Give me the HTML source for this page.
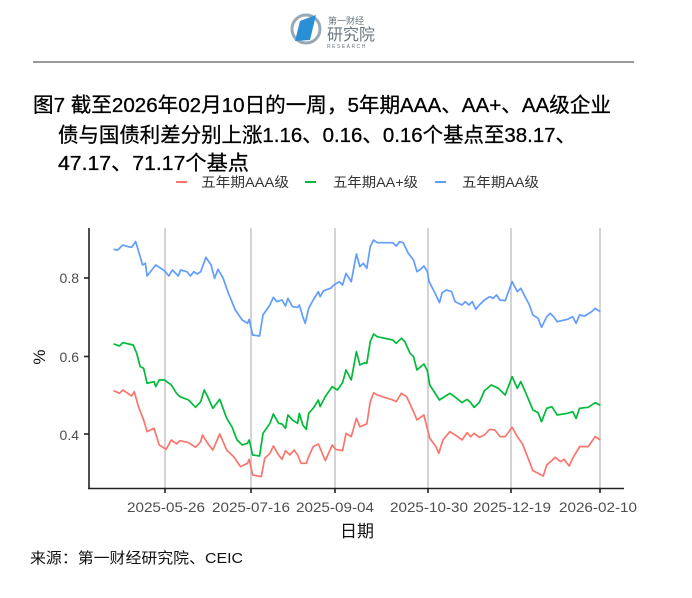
<!DOCTYPE html>
<html><head><meta charset="utf-8"><style>
body{margin:0;width:692px;height:593px;background:#fff;overflow:hidden;font-family:"Liberation Sans","Noto Sans CJK SC",sans-serif;}
</style></head><body>
<svg width="692" height="593" viewBox="0 0 692 593" xmlns="http://www.w3.org/2000/svg" font-family="Liberation Sans, Noto Sans CJK SC, sans-serif">
<!-- logo -->
<circle cx="306" cy="29" r="14" fill="none" stroke="#9aa7b4" stroke-width="3"/>
<polygon points="300,21 316,15 310,40 295,41" fill="#2b8fd6"/>
<text x="328" y="24" font-size="9" fill="#6b7680">第一财经</text>
<text x="327" y="40" font-size="16" fill="#6b7680">研究院</text>
<text x="327" y="48" font-size="5" fill="#6b7680" letter-spacing="1.5">RESEARCH</text>
<line x1="33" y1="62" x2="634" y2="62" stroke="#333" stroke-width="1"/>
<!-- title -->
<g font-size="20.5" fill="#000" stroke="#000" stroke-width="0.3">
<text x="33" y="112" textLength="578" lengthAdjust="spacingAndGlyphs">图7  截至2026年02月10日的一周，5年期AAA、AA+、AA级企业</text>
<text x="58" y="142" textLength="518" lengthAdjust="spacingAndGlyphs">债与国债利差分别上涨1.16、0.16、0.16个基点至38.17、</text>
<text x="58" y="170" textLength="191" lengthAdjust="spacingAndGlyphs">47.17、71.17个基点</text>
</g>
<!-- legend -->
<g font-size="13.5" fill="#333">
<line x1="176" y1="182" x2="187" y2="182" stroke="#f8766d" stroke-width="2"/>
<text x="201" y="187" textLength="88" lengthAdjust="spacingAndGlyphs">五年期AAA级</text>
<line x1="305" y1="182" x2="316" y2="182" stroke="#00ba38" stroke-width="2"/>
<text x="333" y="187" textLength="85" lengthAdjust="spacingAndGlyphs">五年期AA+级</text>
<line x1="435" y1="182" x2="446" y2="182" stroke="#619cff" stroke-width="2"/>
<text x="462" y="187" textLength="77" lengthAdjust="spacingAndGlyphs">五年期AA级</text>
</g>
<!-- grid -->
<g stroke="#bdbdbd" stroke-width="1.3">
<line x1="165" y1="228" x2="165" y2="488"/><line x1="251" y1="228" x2="251" y2="488"/>
<line x1="335" y1="228" x2="335" y2="488"/><line x1="428" y1="228" x2="428" y2="488"/>
<line x1="511" y1="228" x2="511" y2="488"/><line x1="600" y1="228" x2="600" y2="488"/>
</g>
<g transform="translate(90,220) scale(0.346,0.3333)" fill="none" stroke-width="1.7" stroke-linejoin="round">
<polyline vector-effect="non-scaling-stroke" stroke="#619cff" points="68,88 80,90 95,75 110,80 120,82 132,65 145,110 152,135 160,130 165,168 190,135 215,152 228,168 238,150 255,168 262,150 280,155 290,168 300,155 310,162 320,155 335,112 350,135 360,175 370,148 385,175 400,220 420,270 440,300 455,310 460,298 470,345 490,348 500,285 520,255 530,232 540,245 555,240 565,258 572,235 585,260 600,262 605,255 615,290 622,310 632,265 645,240 660,215 665,230 675,212 695,205 705,195 720,185 730,195 740,160 755,185 770,102 780,140 790,130 800,145 810,80 820,60 830,68 875,68 885,78 895,65 905,68 920,100 935,120 945,155 955,148 965,138 975,155 980,185 995,215 1010,248 1018,218 1030,210 1045,215 1055,245 1075,255 1085,245 1095,255 1105,245 1115,268 1125,255 1140,240 1155,230 1165,235 1175,225 1185,240 1200,242 1220,185 1235,215 1245,205 1255,225 1270,255 1280,285 1295,295 1305,322 1320,290 1330,280 1340,290 1350,305 1380,298 1395,290 1405,310 1415,285 1430,288 1450,275 1460,265 1475,275"/>
<polyline vector-effect="non-scaling-stroke" stroke="#00ba38" points="68,372 85,378 95,368 125,375 135,400 145,440 155,445 165,490 185,485 190,500 200,480 215,480 235,495 250,520 260,530 285,540 305,562 320,545 330,510 340,530 355,565 375,538 395,595 410,620 425,660 440,675 455,670 460,660 470,705 490,708 500,640 520,610 530,582 545,610 555,612 565,625 572,585 585,600 600,610 605,580 615,615 625,628 632,580 645,565 660,540 665,560 680,530 700,500 715,510 730,488 740,450 755,480 770,395 780,435 795,428 800,430 810,365 820,342 830,350 875,360 885,370 900,355 910,365 925,400 935,410 945,450 965,432 975,452 982,495 1010,540 1040,520 1060,535 1075,548 1090,538 1100,548 1110,562 1125,548 1140,512 1160,495 1180,505 1200,525 1220,470 1235,505 1245,485 1260,520 1280,570 1295,578 1305,605 1320,565 1335,560 1350,585 1380,580 1395,575 1405,595 1415,565 1440,562 1460,548 1475,556"/>
<polyline vector-effect="non-scaling-stroke" stroke="#f8766d" points="68,512 85,520 95,510 120,528 128,515 140,560 155,600 165,635 185,625 200,675 220,688 235,660 250,672 260,662 285,668 305,682 320,665 325,645 340,670 355,690 375,642 395,690 415,710 435,740 455,730 460,718 470,765 495,770 505,715 520,700 530,678 545,705 555,718 565,692 578,705 590,690 600,705 610,730 625,730 632,710 645,680 660,672 680,722 700,675 710,688 730,692 740,640 755,650 770,595 780,620 800,612 810,545 820,518 830,525 875,540 885,545 900,520 915,530 935,575 945,600 965,585 982,655 1000,680 1008,700 1020,660 1040,635 1060,648 1075,660 1090,638 1100,650 1110,640 1125,652 1140,645 1155,628 1170,630 1185,650 1200,650 1220,622 1235,650 1250,672 1270,725 1280,752 1310,768 1320,735 1345,712 1360,725 1370,718 1385,738 1395,715 1415,680 1440,680 1460,650 1475,660"/>
</g>
<!-- axes -->
<g stroke="#222" stroke-width="1.6">
<line x1="89" y1="228" x2="89" y2="489"/>
<line x1="88" y1="488.5" x2="624" y2="488.5"/>
<line x1="84" y1="278" x2="89" y2="278"/><line x1="84" y1="356.5" x2="89" y2="356.5"/><line x1="84" y1="434" x2="89" y2="434"/>
<line x1="165" y1="488" x2="165" y2="493"/><line x1="251" y1="488" x2="251" y2="493"/><line x1="335" y1="488" x2="335" y2="493"/>
<line x1="428" y1="488" x2="428" y2="493"/><line x1="511" y1="488" x2="511" y2="493"/><line x1="600" y1="488" x2="600" y2="493"/>
</g>
<g font-size="14" fill="#4d4d4d" text-anchor="end">
<text x="79" y="283">0.8</text><text x="79" y="362">0.6</text><text x="79" y="440">0.4</text>
</g>
<g font-size="14" fill="#4d4d4d" text-anchor="middle">
<text x="166" y="512" textLength="78" lengthAdjust="spacingAndGlyphs">2025-05-26</text><text x="251" y="512" textLength="78" lengthAdjust="spacingAndGlyphs">2025-07-16</text><text x="335" y="512" textLength="78" lengthAdjust="spacingAndGlyphs">2025-09-04</text>
<text x="429" y="512" textLength="78" lengthAdjust="spacingAndGlyphs">2025-10-30</text><text x="512" y="512" textLength="78" lengthAdjust="spacingAndGlyphs">2025-12-19</text><text x="598" y="512" textLength="78" lengthAdjust="spacingAndGlyphs">2026-02-10</text>
</g>
<text x="357" y="537" font-size="17" fill="#111" text-anchor="middle">日期</text>
<text x="0" y="0" font-size="17" fill="#111" text-anchor="middle" transform="translate(45,357) rotate(-90)">%</text>
<text x="30" y="563" font-size="15" fill="#111" textLength="213" lengthAdjust="spacingAndGlyphs">来源：第一财经研究院、CEIC</text>
</svg>
</body></html>
